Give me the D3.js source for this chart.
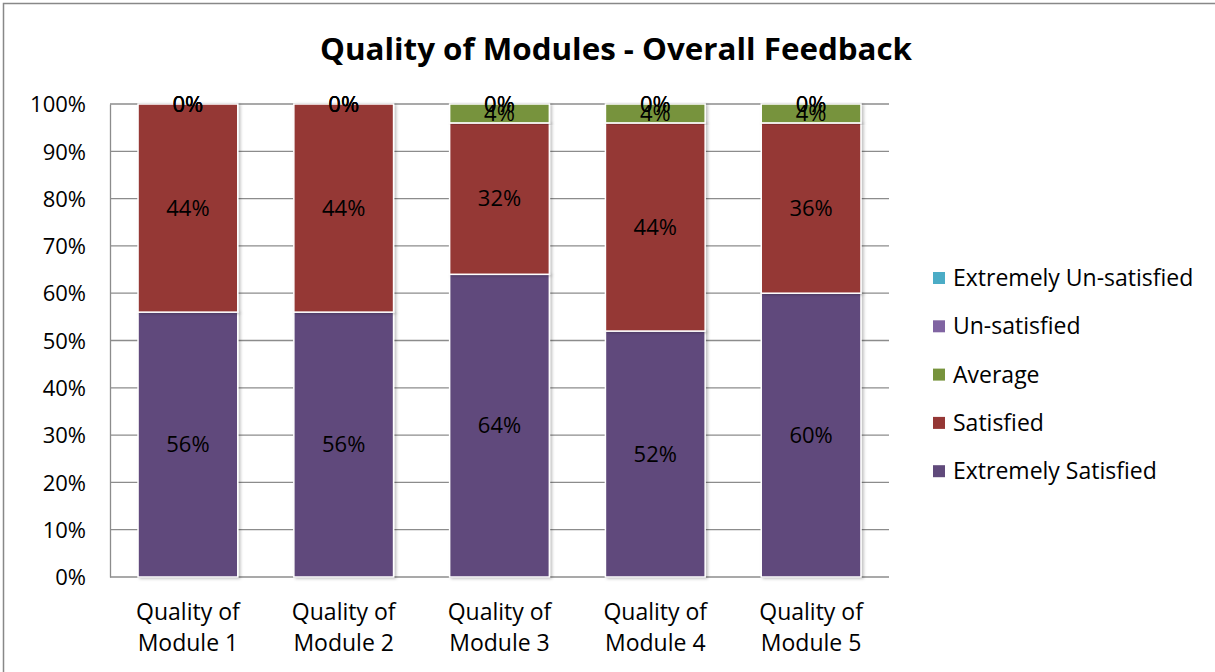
<!DOCTYPE html>
<html>
<head>
<meta charset="utf-8">
<script src="https://cdn.jsdelivr.net/npm/d3@7"></script>
<style>
  body { margin: 0; background: #fff; }
  text { font-family: "Open Sans", "Noto Sans", sans-serif; }
</style>
</head>
<body>
<script>
'use strict';

// data
const modules = ["Quality of Module 1", "Quality of Module 2", "Quality of Module 3", "Quality of Module 4", "Quality of Module 5"];
const seriesNames = ["Extremely Satisfied", "Satisfied", "Average", "Un-satisfied", "Extremely Un-satisfied"];
const extremelySatisfied = [56, 56, 64, 52, 60];
const satisfied = [44, 44, 32, 44, 36];
const average = [0, 0, 4, 4, 4];
const unSatisfied = [0, 0, 0, 0, 0];
const extremelyUnSatisfied = [0, 0, 0, 0, 0];
const yTicks = [0, 10, 20, 30, 40, 50, 60, 70, 80, 90, 100];

const colors = {
  "Extremely Satisfied": "#604a7b",
  "Satisfied": "#953735",
  "Average": "#77933c",
  "Un-satisfied": "#8064a2",
  "Extremely Un-satisfied": "#4bacc6"
};

const W = 1215, H = 672;
const svg = d3.select('body').append('svg')
  .attr('width', W)
  .attr('height', H);

// chart border
svg.append('rect')
  .attr('x', 3.5).attr('y', 3.5)
  .attr('width', W + 10).attr('height', H + 10)
  .attr('fill', 'none')
  .attr('stroke', '#888')
  .attr('stroke-width', 1.5);

// title
svg.append('text')
  .attr('x', 616)
  .attr('y', 60)
  .attr('text-anchor', 'middle')
  .style('font-size', '31px')
  .style('font-weight', 'bold')
  .attr('textLength', 592)
  .attr('lengthAdjust', 'spacingAndGlyphs')
  .text('Quality of Modules - Overall Feedback');

// build rows for the stack
const table = modules.map((m, i) => ({
  module: m,
  "Extremely Satisfied": extremelySatisfied[i],
  "Satisfied": satisfied[i],
  "Average": average[i],
  "Un-satisfied": unSatisfied[i],
  "Extremely Un-satisfied": extremelyUnSatisfied[i]
}));
const stacked = d3.stack().keys(seriesNames)(table);

const xScale = d3.scaleBand()
  .domain(modules)
  .range([110, 889])
  .paddingInner(0.36)
  .paddingOuter(0.18);

const yScale = d3.scaleLinear()
  .domain([0, 100])
  .range([577, 104]);

// gridlines
svg.append('g')
  .selectAll('line')
  .data(yTicks.slice(1))
  .enter().append('line')
    .attr('x1', 110).attr('x2', 889)
    .attr('y1', d => yScale(d)).attr('y2', d => yScale(d))
    .attr('stroke', '#8c8c8c')
    .attr('stroke-width', 1.3);

// y axis
const yAxis = d3.axisLeft(yScale)
  .tickValues(yTicks)
  .tickSize(0)
  .tickPadding(24)
  .tickFormat(d => d + '%');
const gy = svg.append('g')
  .attr('transform', 'translate(110, 0)')
  .call(yAxis);
gy.select('.domain').attr('stroke', '#8c8c8c').attr('stroke-width', 1.3);
gy.selectAll('text')
  .style('font-size', '22px')
  .attr('fill', '#000')
  .attr('dy', '0.35em');

// x axis line
svg.append('line')
  .attr('x1', 110).attr('x2', 889)
  .attr('y1', 577).attr('y2', 577)
  .attr('stroke', '#8c8c8c')
  .attr('stroke-width', 1.3);

// drop shadow for bars
const defs = svg.append('defs');
const filt = defs.append('filter').attr('id', 'shadow')
  .attr('x', '-10%').attr('y', '-10%').attr('width', '130%').attr('height', '120%');
filt.append('feDropShadow')
  .attr('dx', 2).attr('dy', 1).attr('stdDeviation', 1.5)
  .attr('flood-color', '#000').attr('flood-opacity', 0.25);

// bars
const layers = svg.append('g').selectAll('g')
  .data(stacked)
  .enter().append('g')
    .attr('fill', d => colors[d.key]);

layers.selectAll('rect')
  .data(d => d)
  .enter().append('rect')
    .attr('x', d => xScale(d.data.module))
    .attr('y', d => yScale(d[1]))
    .attr('width', xScale.bandwidth())
    .attr('height', d => yScale(d[0]) - yScale(d[1]))
    .attr('stroke', '#fff')
    .attr('stroke-width', 1.5)
    .attr('filter', 'url(#shadow)');

// data labels
const labelGroup = svg.append('g');
stacked.forEach(layer => {
  labelGroup.selectAll(null)
    .data(layer)
    .enter().append('text')
      .attr('x', d => xScale(d.data.module) + xScale.bandwidth() / 2)
      .attr('y', d => yScale((d[0] + d[1]) / 2))
      .attr('dy', '0.35em')
      .attr('text-anchor', 'middle')
      .style('font-size', '22px')
      .attr('fill', '#000')
      .text(d => (d[1] - d[0]) + '%');
});

// category labels, two lines each
const xLabels = svg.append('g').selectAll('text')
  .data(modules)
  .enter().append('text')
    .attr('text-anchor', 'middle')
    .style('font-size', '23px')
    .attr('fill', '#000');
xLabels.append('tspan')
  .attr('x', d => xScale(d) + xScale.bandwidth() / 2)
  .attr('y', 620)
  .text(d => d.split(' ').slice(0, 2).join(' '));
xLabels.append('tspan')
  .attr('x', d => xScale(d) + xScale.bandwidth() / 2)
  .attr('y', 651)
  .text(d => d.split(' ').slice(2).join(' '));

// legend, top entry is the last series
const legendOrder = seriesNames.slice().reverse();
const legend = svg.append('g').selectAll('g')
  .data(legendOrder)
  .enter().append('g')
    .attr('transform', (d, i) => 'translate(933,' + (278 + i * 48.3) + ')');
legend.append('rect')
  .attr('x', 0).attr('y', -6)
  .attr('width', 12).attr('height', 12)
  .attr('fill', d => colors[d]);
legend.append('text')
  .attr('x', 20)
  .attr('dy', '0.35em')
  .style('font-size', '23px')
  .attr('fill', '#000')
  .text(d => d);
</script>
</body>
</html>
